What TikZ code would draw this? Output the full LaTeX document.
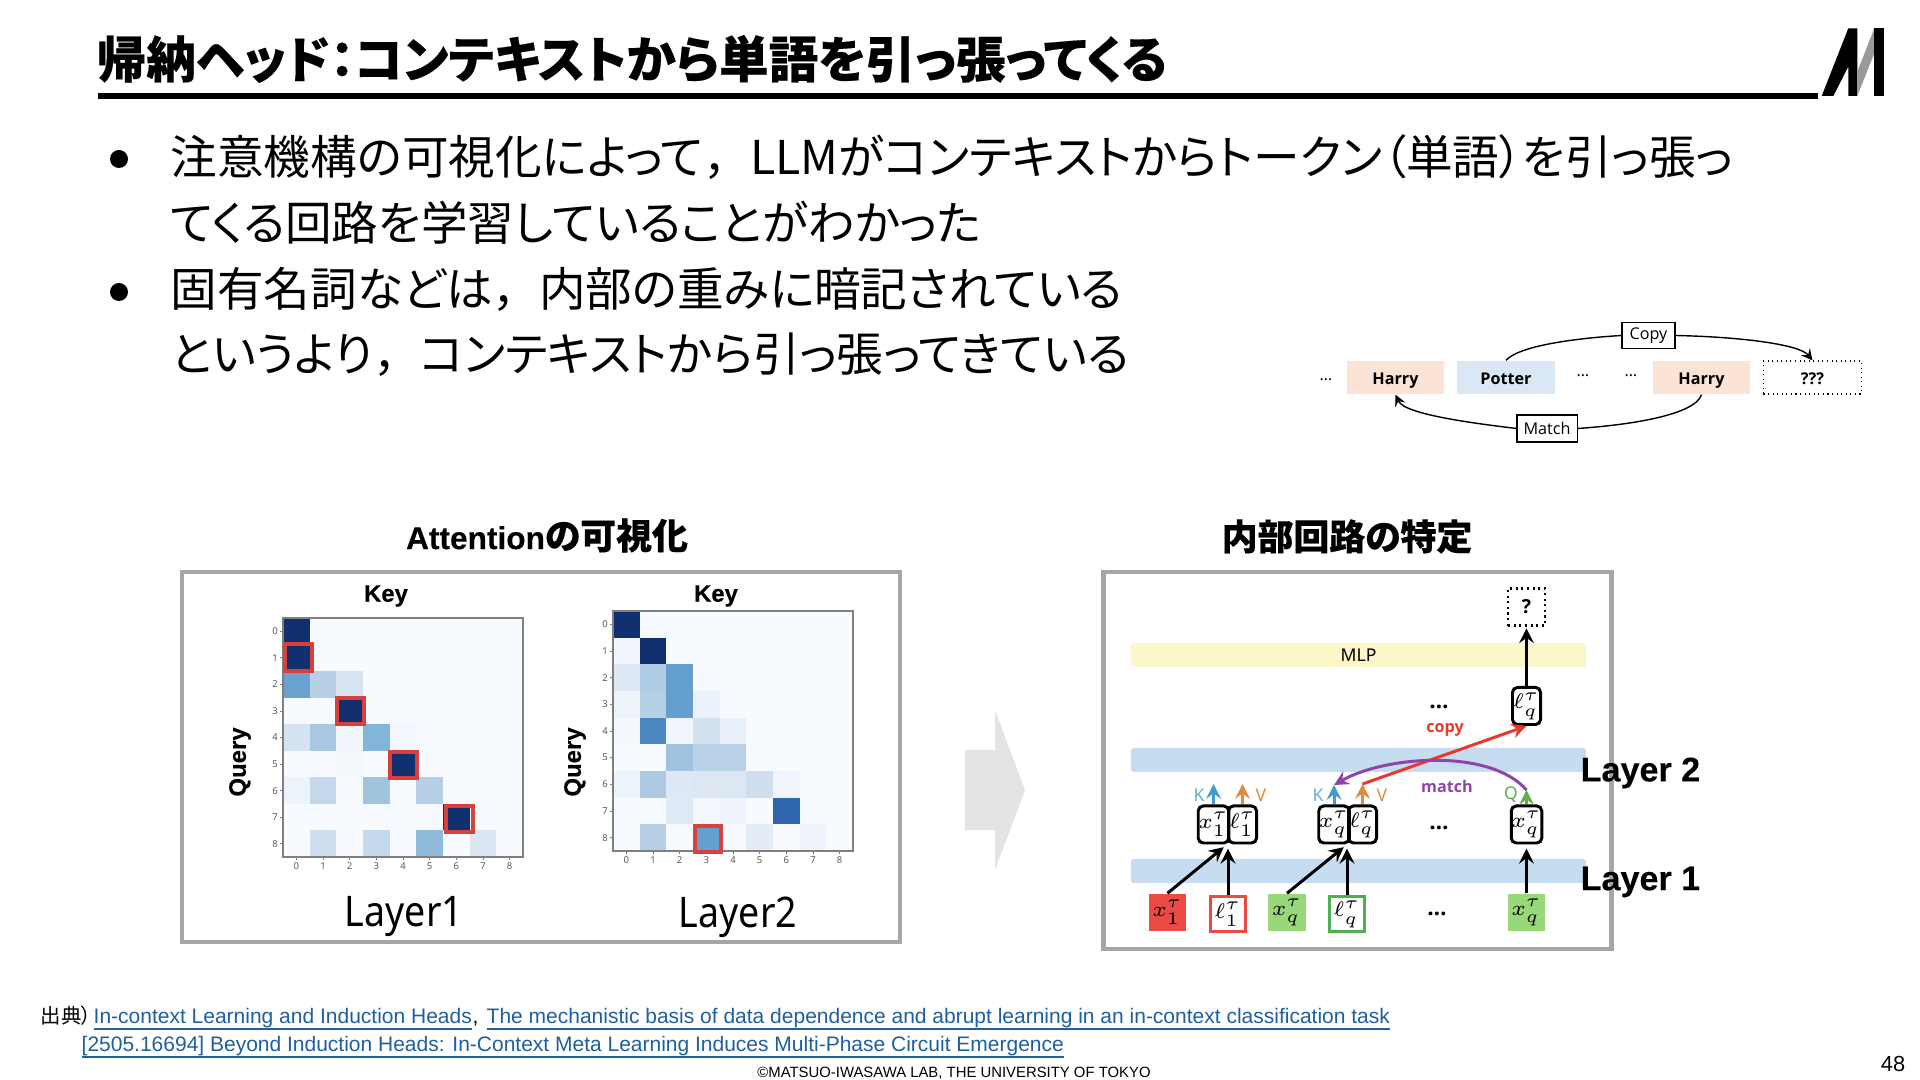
\documentclass[tikz,border=0pt]{standalone}
\usepackage{fontspec}
\usepackage{graphicx}
\setmainfont[RawFeature=+palt,BoldFeatures={FakeBold=0.3}]{Noto Sans CJK JP}
\newfontfamily\fullfont{Noto Sans CJK JP}
\newfontfamily\arialfont[BoldFeatures={FakeBold=0.25}]{Liberation Sans}
\newfontfamily\notofont{Noto Sans}
\newfontfamily\tokenfont{Open Sans}
\newcommand{\zcomma}{{\fullfont ，}}
\newcommand{\linkline}[1]{\underline{\smash{#1}}}
\definecolor{framegray}{HTML}{A6A6A6}
\definecolor{arrowgray}{HTML}{E4E4E4}
\definecolor{heatbg}{HTML}{F7FBFF}
\definecolor{heatred}{HTML}{D8403C}
\definecolor{bandblue}{HTML}{C6DDF1}
\definecolor{bandyellow}{HTML}{FDF6C9}
\definecolor{boxred}{HTML}{EB4B44}
\definecolor{boxgreen}{HTML}{98D87A}
\definecolor{linegreen}{HTML}{4CAF50}
\definecolor{keyblue}{HTML}{3F9CCB}
\definecolor{valorange}{HTML}{E08A45}
\definecolor{querygreen}{HTML}{62AE47}
\definecolor{copyred}{HTML}{E8392B}
\definecolor{matchpurple}{HTML}{8E44AD}
\definecolor{harrypink}{HTML}{FBE3D6}
\definecolor{potterblue}{HTML}{DAE8F5}
\definecolor{linkblue}{HTML}{1F5F9E}
\begin{document}
\begin{tikzpicture}[
    x=0.01cm, y=-0.01cm,
    heading/.style={anchor=west, inner sep=0pt, font=\fontsize{14.1pt}{16pt}\selectfont\bfseries},
    body/.style={anchor=west, inner sep=0pt, font=\fontsize{13.25pt}{15pt}\selectfont},
    caption/.style={inner sep=0pt, font=\fontsize{10.2pt}{12pt}\selectfont\bfseries},
    axislabel/.style={inner sep=0pt, font=\fontsize{6.8pt}{8pt}\arialfont\bfseries},
    layerlabel/.style={inner sep=0pt, font=\fontsize{12pt}{14pt}\notofont},
    sidelabel/.style={inner sep=0pt, anchor=west, font=\fontsize{9.7pt}{12pt}\arialfont\bfseries},
    tick/.style={inner sep=0pt, text=black!65, font=\fontsize{2.7pt}{3pt}\notofont},
    panel/.style={draw=framegray, line width=1.2pt},
    token/.style={minimum width=0.97cm, minimum height=0.33cm, inner sep=0pt, text height=5.2pt, text depth=1pt, font=\fontsize{4.6pt}{6pt}\tokenfont\bfseries},
    tag/.style={draw=black, line width=0.3pt, fill=white, inner sep=0pt, font=\fontsize{4.6pt}{6pt}\tokenfont},
    band/.style={rounded corners=0.8pt, minimum width=4.55cm, minimum height=0.24cm, inner sep=0pt, font=\fontsize{5pt}{6pt}\notofont},
    cell/.style={draw=black, line width=0.85pt, rounded corners=1.4pt, minimum width=0.28cm, minimum height=0.37cm, inner sep=0pt, font=\fontsize{5.8pt}{7pt}\selectfont},
    seed/.style={minimum width=0.37cm, minimum height=0.37cm, inner sep=0pt, font=\fontsize{5.8pt}{7pt}\selectfont},
    feed/.style={-stealth, line width=0.85pt},
    kv/.style={inner sep=0pt, font=\fontsize{5pt}{6pt}\notofont},
    redbox/.style={draw=heatred, line width=0.9pt},
    link/.style={anchor=base west, inner sep=0pt, text=linkblue, font=\fontsize{5.97pt}{8pt}\arialfont},
    thindots/.style={inner sep=0pt, font=\fontsize{4.6pt}{6pt}\tokenfont},
    dotsmark/.style={inner sep=0pt, font=\fontsize{6.4pt}{7pt}\tokenfont\bfseries}]

    \useasboundingbox (0,0) rectangle (1920,1080);

    % title
    \node[heading] (title) at (96,59) {帰納ヘッド：コンテキストから単語を引っ張ってくる};
    \fill[black] (98,93) rectangle (1818,99);
    \fill[black] (1821.7,96)--(1848.3,28.3)--(1857.3,28.3)--(1857.3,96)--(1848.3,96)--(1848.3,66.7)--(1833.3,96)--cycle;
    \fill[black!40] (1857.3,71.7)--(1874.3,28.3)--(1874.3,53.3)--(1857.3,96)--cycle;
    \fill[black] (1874.3,28.3) rectangle (1884,96);

    % bullets
    \fill[black] (119,159) circle (9);
    \fill[black] (119,292) circle (9);
    \node[body] (l1) at (170,157) {注意機構の可視化によって\zcomma LLMがコンテキストからトークン（単語）を引っ張っ};
    \node[body] (l2) at (170,223) {てくる回路を学習していることがわかった};
    \node[body] (l3) at (170,289) {固有名詞などは\zcomma 内部の重みに暗記されている};
    \node[body] (l4) at (170,355) {というより\zcomma コンテキストから引っ張ってきている};

    % harry potter strip
    \node[thindots] (d1) at (1326,380) {…};
    \node[token, fill=harrypink] (harry1) at (1395.5,377.5) {Harry};
    \node[token, fill=potterblue] (potter) at (1506,377.5) {Potter};
    \node[thindots] (d2) at (1583,376) {…};
    \node[thindots] (d3) at (1631,376) {…};
    \node[token, fill=harrypink] (harry2) at (1701.5,377.5) {Harry};
    \node[token, draw=black, densely dotted, line width=0.3pt, minimum width=0.98cm] (next) at (1812.5,377.5) {???};
    \node[tag, minimum width=0.53cm, minimum height=0.26cm] (copytag) at (1648.5,335.5) {Copy};
    \node[tag, minimum width=0.6cm, minimum height=0.27cm] (matchtag) at (1547,428.5) {Match};
    \draw[line width=0.4pt] (potter.north) .. controls (1520,345) and (1580,338) .. (copytag.west);
    \draw[-stealth, line width=0.4pt] (copytag.east) .. controls (1745,337) and (1800,345) .. (next.north);
    \draw[line width=0.4pt] (harry2.south) .. controls (1695,415) and (1630,425) .. (matchtag.east);
    \draw[-stealth, line width=0.4pt] (matchtag.west) .. controls (1480,424) and (1405,415) .. (harry1.south);

    % captions
    \node[caption] (capleft) at (547,535.5) {{\fontsize{9pt}{12pt}\arialfont\bfseries Attention}の可視化};
    \node[caption] (capright) at (1347,536.5) {内部回路の特定};

    % left panel
    \draw[panel] (182,572) rectangle (900,942);
    \node[axislabel] (key1) at (386,596) {Key};
    \node[axislabel] (key2) at (716,596) {Key};
    \node[axislabel, rotate=90] (query1) at (240,762) {Query};
    \node[axislabel, rotate=90] (query2) at (575,762) {Query};
    \node[layerlabel] (layer1) at (404,917) {\scalebox{0.89}[1]{Layer1}};
    \node[layerlabel] (layer2) at (738,917) {\scalebox{0.89}[1]{Layer2}};

    % heatmap, layer 1
    \fill[heatbg] (283,618) rectangle (523,857);
    \foreach \r/\c/\v in {0/0/12306F, 1/0/12306F, 2/0/6AA3CF, 2/1/B8D0E6, 2/2/D8E4F2,
        3/2/12306F, 4/0/D5E2F1, 4/1/A8C8E1, 4/2/F2F6FC, 4/3/82B5D8, 4/4/F3F7FD,
        5/2/F5F8FD, 5/4/12306F, 6/0/EDF3FA, 6/1/C5D8EB, 6/3/A0C4DE, 6/5/B6CFE5,
        7/6/12306F, 8/1/D0DFF0, 8/3/C5D9EC, 8/5/8FBAD9, 8/7/DBE6F3}{
      \definecolor{heatcell}{HTML}{\v}
      \fill[heatcell] ({283+\c*26.67},{618+\r*26.56}) rectangle +(26.67,26.56);
    }
    \draw[black!50, line width=0.4pt] (283,618) rectangle (523,857);
    \foreach \i in {0,...,8}{
      \draw[black!50, line width=0.25pt] ({296.3+\i*26.67},857)--+(0,3);
      \draw[black!50, line width=0.25pt] (283,{631.3+\i*26.56})--+(-3,0);
      \node[tick] (xa\i) at ({296.3+\i*26.67},866) {\i};
      \node[tick] (ya\i) at (275,{631.3+\i*26.56}) {\i};
    }
    \draw[redbox] (285,644) rectangle (312,671);
    \draw[redbox] (337,698) rectangle (364,724);
    \draw[redbox] (390,752) rectangle (417,778);
    \draw[redbox] (446,806) rectangle (473,832);

    % heatmap, layer 2
    \fill[heatbg] (613,611) rectangle (853,851);
    \foreach \r/\c/\v in {0/0/12306F, 1/0/F2F6FC, 1/1/12306F, 2/0/DEE9F5, 2/1/AECCE3, 2/2/649FCF,
        3/0/EEF3FA, 3/1/B5CFE5, 3/2/649FCF, 3/3/ECF2F9, 4/0/F5F8FD, 4/1/4A86C0, 4/2/F1F6FC,
        4/3/D2E0F0, 4/4/E7EFF8, 5/2/9FC3DF, 5/3/B9D2E7, 5/4/B9D2E7, 6/0/EDF3FA, 6/1/ADCAE2,
        6/2/DFE9F5, 6/3/DCE7F3, 6/4/DCE7F3, 6/5/D0DFF0, 6/6/F0F5FB, 7/2/E0EAF6, 7/3/F3F7FD,
        7/4/EFF4FB, 7/6/2F66AD, 8/1/B7D0E6, 8/3/649FCF, 8/5/E4EDF7, 8/7/EFF4FB}{
      \definecolor{heatcell}{HTML}{\v}
      \fill[heatcell] ({613+\c*26.67},{611+\r*26.67}) rectangle +(26.67,26.67);
    }
    \draw[black!50, line width=0.4pt] (613,611) rectangle (853,851);
    \foreach \i in {0,...,8}{
      \draw[black!50, line width=0.25pt] ({626.3+\i*26.67},851)--+(0,3);
      \draw[black!50, line width=0.25pt] (613,{624.3+\i*26.67})--+(-3,0);
      \node[tick] (xb\i) at ({626.3+\i*26.67},860) {\i};
      \node[tick] (yb\i) at (605,{624.3+\i*26.67}) {\i};
    }
    \draw[redbox] (695,826) rectangle (721,852);

    % big arrow
    \fill[arrowgray] (965,750)--(995,750)--(995,710)--(1025,790)--(995,870)--(995,830)--(965,830)--cycle;

    % right panel
    \draw[panel] (1103.5,572) rectangle (1611.5,949);
    \node[band, fill=bandyellow] (mlp) at (1358.5,655) {MLP};
    \node[band, fill=bandblue] (band2) at (1358.5,760) {};
    \node[band, fill=bandblue] (band1) at (1358.5,871) {};
    \node[sidelabel] (side2) at (1580,773) {Layer 2};
    \node[sidelabel] (side1) at (1580,882) {Layer 1};

    \node[seed, fill=boxred] (bx1) at (1167.5,912.5) {$x_1^\tau$};
    \node[seed, draw=boxred, line width=0.6pt, minimum width=0.35cm, minimum height=0.35cm] (bl1) at (1228,914) {$\ell_1^\tau$};
    \node[seed, fill=boxgreen] (bxq) at (1287,912.5) {$x_q^\tau$};
    \node[seed, draw=linegreen, line width=0.6pt, minimum width=0.35cm, minimum height=0.35cm] (blq) at (1347,914) {$\ell_q^\tau$};
    \node[seed, fill=boxgreen] (bxr) at (1526.5,912.5) {$x_q^\tau$};

    \node[cell] (cx1) at (1213.5,824.5) {$x_1^\tau$};
    \node[cell] (cl1) at (1242.5,824.5) {$\ell_1^\tau$};
    \node[cell] (cxq) at (1334,824.5) {$x_q^\tau$};
    \node[cell] (clq) at (1362.5,824.5) {$\ell_q^\tau$};
    \node[cell] (cxr) at (1526.5,824.5) {$x_q^\tau$};
    \node[cell] (clt) at (1526.5,706) {$\ell_q^\tau$};
    \node[draw=black, densely dotted, line width=0.6pt, minimum width=0.37cm, minimum height=0.37cm, inner sep=0pt, font=\fontsize{5.5pt}{6pt}\tokenfont\bfseries] (qbox) at (1526.5,607) {?};

    \node[dotsmark] (dots1) at (1439,707) {…};
    \node[dotsmark] (dots2) at (1439,828) {…};
    \node[dotsmark] (dots3) at (1437,914) {…};

    \draw[feed, shorten >=1.2pt] (bx1.north)--(cl1.south west);
    \draw[feed, shorten >=1.2pt] (bl1.north)--(bl1.north |- cl1.south);
    \draw[feed, shorten >=1.2pt] (bxq.north)--(clq.south west);
    \draw[feed, shorten >=1.2pt] (blq.north)--(blq.north |- clq.south);
    \draw[feed, shorten >=1.2pt] (bxr.north)--(cxr.south);
    \draw[feed, shorten >=0.5pt] (clt.north)--(qbox.south);

    \coordinate (k1) at (1213.5,784);
    \coordinate (v1) at (1242.5,784);
    \coordinate (k2) at (1334,785);
    \coordinate (v2) at (1362.5,784);
    \coordinate (q1) at (1526.5,790);
    \draw[feed, keyblue] (cx1.north)--(k1);
    \draw[feed, valorange] (cl1.north)--(v1);
    \draw[feed, keyblue] (cxq.north)--(k2);
    \draw[feed, valorange] (clq.north)--(v2);
    \draw[feed, querygreen] (cxr.north)--(q1);
    \draw[feed, copyred] (v2)--(clt.south);
    \draw[feed, matchpurple] (q1) .. controls (1490,748) and (1385,756) .. (k2);

    \node[kv, text=keyblue!80] (lk1) at (1199,795) {K};
    \node[kv, text=valorange] (lv1) at (1261,795) {V};
    \node[kv, text=keyblue!80] (lk2) at (1318,795) {K};
    \node[kv, text=valorange] (lv2) at (1382,795) {V};
    \node[kv, text=querygreen] (lq) at (1511,795) {Q};
    \node[kv, text=copyred, font=\fontsize{4.6pt}{6pt}\tokenfont\bfseries] (copylabel) at (1445,730) {copy};
    \node[kv, text=matchpurple, font=\fontsize{4.6pt}{6pt}\tokenfont\bfseries] (matchlabel) at (1447,786) {match};

    % source
    \node[anchor=base west, inner sep=0pt, font=\fontsize{5.8pt}{8pt}\selectfont] (src) at (40,1024) {出典）};
    \node[link] (ref1) at (93,1024) {\linkline{In-context Learning and Induction Heads}};
    \node[anchor=base west, inner sep=0pt, font=\fontsize{5.97pt}{8pt}\arialfont] (comma) at (472,1024) {,};
    \node[link] (ref2) at (486,1024) {\linkline{The mechanistic basis of data dependence and abrupt learning in an in-context classification task}};
    \node[link] (ref3) at (81,1052) {\linkline{[2505.16694] Beyond Induction Heads: In-Context Meta Learning Induces Multi-Phase Circuit Emergence}};
    \node[inner sep=0pt, font=\fontsize{4.23pt}{5pt}\arialfont] (lab) at (954,1073) {©MATSUO-IWASAWA LAB, THE UNIVERSITY OF TOKYO};
    \node[inner sep=0pt, font=\fontsize{6.2pt}{8pt}\arialfont] (page) at (1893,1064) {48};
  \end{tikzpicture}
\end{document}
